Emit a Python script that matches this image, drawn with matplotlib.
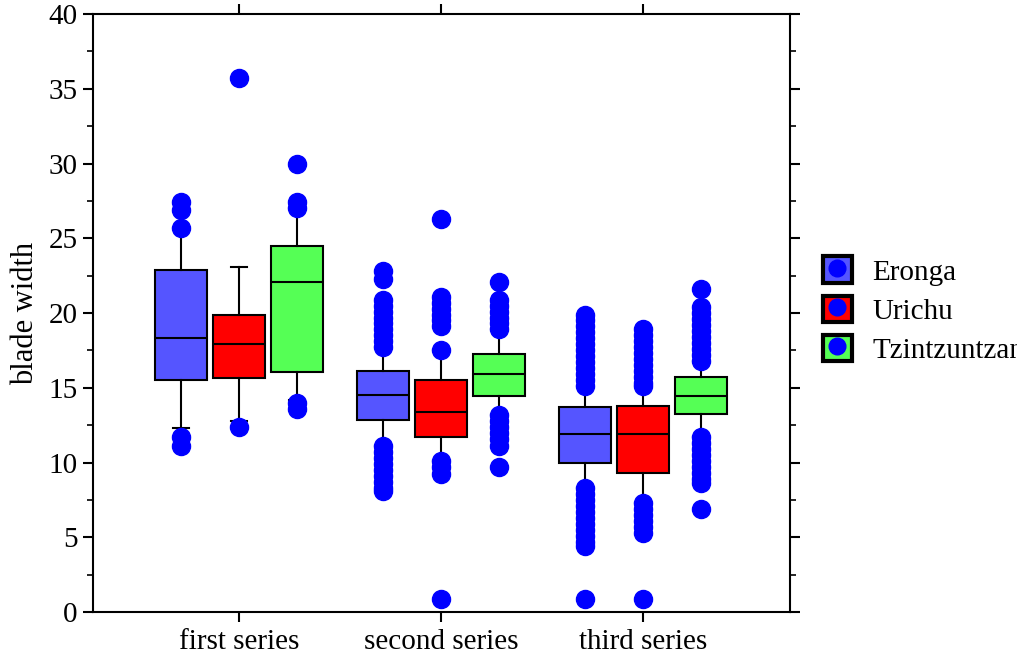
import numpy as np
import matplotlib
matplotlib.use("Agg")
import matplotlib.pyplot as plt
from matplotlib.patches import Patch
from matplotlib.lines import Line2D
from matplotlib.ticker import MultipleLocator

plt.rcParams["font.family"] = ["Liberation Serif", "DejaVu Serif"]

groups = ["first series", "second series", "third series"]
sites = ["Eronga", "Urichu", "Tzintzuntzan"]
colors = ["#5555FF", "#FF0000", "#55FF55"]

# box stats per site, one value per group
med = {"Eronga": [18.3, 14.5, 11.9], "Urichu": [17.9, 13.4, 11.9], "Tzintzuntzan": [22.1, 15.95, 14.45]}
q1 = {"Eronga": [15.5, 12.85, 9.95], "Urichu": [15.65, 11.7, 9.3], "Tzintzuntzan": [16.05, 14.45, 13.25]}
q3 = {"Eronga": [22.9, 16.1, 13.7], "Urichu": [19.9, 15.5, 13.8], "Tzintzuntzan": [24.5, 17.25, 15.7]}
whis_lo = {"Eronga": [12.3, 11.1, 8.3], "Urichu": [12.8, 10.1, 7.3], "Tzintzuntzan": [14.2, 13.2, 11.7]}
whis_hi = {"Eronga": [25.7, 17.7, 15.1], "Urichu": [23.1, 17.5, 15.1], "Tzintzuntzan": [27.0, 18.9, 16.8]}

fliers = {
    "Eronga": [
        [27.4, 26.9, 25.7, 11.7, 11.1],
        [22.8, 22.3, 20.9, 20.5, 20.1, 19.7, 19.3, 18.9, 18.5, 18.1, 17.7,
         11.1, 10.7, 10.3, 9.9, 9.5, 9.1, 8.7, 8.3, 8.1],
        [19.9, 19.5, 19.1, 18.7, 18.3, 17.9, 17.5, 17.1, 16.7, 16.3, 15.9, 15.5, 15.1,
         8.3, 7.9, 7.5, 7.1, 6.7, 6.3, 5.9, 5.5, 5.1, 4.7, 4.4, 0.9],
    ],
    "Urichu": [
        [35.7, 12.4],
        [26.3, 21.1, 20.7, 20.3, 19.9, 19.5, 19.1, 17.5, 10.1, 9.7, 9.2, 0.9],
        [18.9, 18.5, 18.1, 17.7, 17.3, 16.9, 16.5, 16.1, 15.7, 15.3, 15.1,
         7.3, 6.9, 6.5, 6.1, 5.7, 5.3, 0.9],
    ],
    "Tzintzuntzan": [
        [30.0, 27.4, 27.0, 14.0, 13.6],
        [22.1, 20.9, 20.5, 20.1, 19.7, 19.3, 18.9, 13.2, 12.8, 12.4, 12.0, 11.6, 11.1, 9.7],
        [21.6, 20.4, 20.0, 19.6, 19.2, 18.8, 18.4, 18.0, 17.6, 17.2, 16.8,
         11.7, 11.3, 10.9, 10.5, 10.1, 9.7, 9.3, 8.9, 8.6, 6.9],
    ],
}

fig = plt.figure(figsize=(10.17, 6.61), dpi=100)
ax = fig.add_axes([0.0914, 0.0741, 0.6854, 0.9047])

offset = 0.287
for j, site in enumerate(sites):
    stats = []
    for i in range(len(groups)):
        stats.append(dict(med=med[site][i], q1=q1[site][i], q3=q3[site][i],
                          whislo=whis_lo[site][i], whishi=whis_hi[site][i],
                          fliers=fliers[site][i]))
    pos = np.arange(1, len(groups) + 1) + (j - 1) * offset
    ax.bxp(stats, positions=pos, widths=0.257, patch_artist=True, showfliers=True,
           capwidths=0.08,
           boxprops=dict(facecolor=colors[j], edgecolor="black", linewidth=1.5),
           medianprops=dict(color="black", linewidth=1.5),
           whiskerprops=dict(color="black", linewidth=1.5),
           capprops=dict(color="black", linewidth=1.5),
           flierprops=dict(marker="o", markersize=13, markerfacecolor="#0000FF",
                           markeredgecolor="#0000FF", linestyle="none"))

ax.set_xlim(0.277, 3.728)
ax.set_ylim(0, 40)
ax.set_xticks(np.arange(1, len(groups) + 1))
ax.set_xticklabels(groups)
ax.yaxis.set_major_locator(MultipleLocator(5))
ax.yaxis.set_minor_locator(MultipleLocator(2.5))
ax.tick_params(axis="both", which="major", direction="out", length=7, width=1.5,
               labelsize=21, top=True, right=True)
ax.tick_params(axis="y", which="minor", direction="out", length=4, width=1.2, right=True)
ax.tick_params(axis="y", pad=4)
ax.tick_params(axis="x", pad=5)
for s in ax.spines.values():
    s.set_linewidth(1.5)
ax.set_ylabel("blade width", fontsize=22, labelpad=6)

# legend sits outside the axes; the last label runs off the edge like the original
handles = [(Patch(facecolor=c, edgecolor="black", linewidth=3),
            Line2D([], [], marker="o", markersize=12, color="#0000FF", linestyle="none"))
           for c in colors]
fig.legend(handles, sites, loc="upper left", bbox_to_anchor=(0.809, 0.612),
           frameon=False, fontsize=21, handlelength=1.0, handleheight=1.0,
           labelspacing=0.35, handletextpad=0.7, borderpad=0, borderaxespad=0)

fig.savefig("out.png", dpi=100)
